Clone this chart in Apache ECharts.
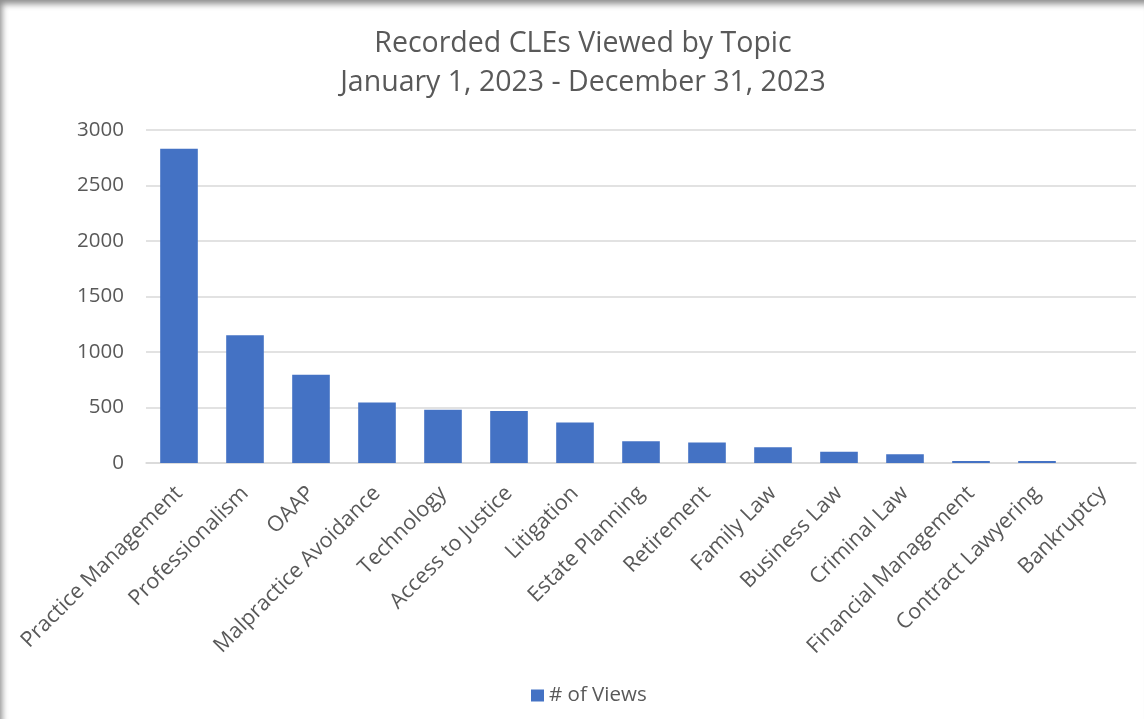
<!DOCTYPE html>
<html>
<head>
<meta charset="utf-8">
<script src="https://cdn.jsdelivr.net/npm/echarts@6/dist/echarts.min.js"></script>
<style>
  html, body { margin: 0; padding: 0; background: #fff; }
  #chart { position: absolute; left: 0; top: 0; width: 1144px; height: 719px; }
  #frame { position: absolute; left: 0; top: 0; width: 1144px; height: 719px; pointer-events: none;
           box-shadow: inset 4px 6px 6px -2px rgba(0,0,0,0.45); }
</style>
</head>
<body>
<div id="chart"></div>
<div id="frame"></div>
<script>
const titleLines = ['Recorded CLEs Viewed by Topic', 'January 1, 2023 - December 31, 2023'];
const categories = ['Practice Management', 'Professionalism', 'OAAP', 'Malpractice Avoidance', 'Technology',
  'Access to Justice', 'Litigation', 'Estate Planning', 'Retirement', 'Family Law', 'Business Law',
  'Criminal Law', 'Financial Management', 'Contract Lawyering', 'Bankruptcy'];
const views = [2830, 1150, 795, 545, 480, 468, 364, 197, 185, 142, 102, 78, 18, 18, 0];
const seriesName = '# of Views';
const yTicks = { min: 0, max: 3000, interval: 500 };

const font = '"Open Sans", Lato, sans-serif';
const chart = echarts.init(document.getElementById('chart'));
chart.setOption({
  animation: false,
  backgroundColor: '#fff',
  title: {
    text: titleLines.join('\n'),
    left: 578,
    textAlign: 'center',
    top: 19,
    textStyle: { fontFamily: font, fontSize: 28.5, fontWeight: 'normal', color: '#595959', lineHeight: 39 }
  },
  legend: {
    data: [seriesName],
    left: 526,
    bottom: 8,
    icon: 'rect',
    itemWidth: 13,
    itemHeight: 12,
    itemGap: 8,
    textStyle: { fontFamily: font, fontSize: 20.5, color: '#595959' }
  },
  grid: { left: 146, right: 8, top: 130, bottom: 256 },
  xAxis: {
    type: 'category',
    data: categories,
    axisLine: { lineStyle: { color: '#d9d9d9', width: 1.5 } },
    axisTick: { show: false },
    axisLabel: { interval: 0, rotate: 45, margin: 27, fontFamily: font, fontSize: 21.5, color: '#595959' }
  },
  yAxis: {
    type: 'value',
    min: yTicks.min, max: yTicks.max, interval: yTicks.interval,
    axisLine: { show: false },
    axisTick: { show: false },
    splitLine: { lineStyle: { color: '#d9d9d9', width: 1.5 } },
    axisLabel: { margin: 22, fontFamily: font, fontSize: 20.5, color: '#595959',
                 formatter: function (v) { return String(v); } }
  },
  series: [{
    name: seriesName,
    type: 'bar',
    data: views,
    barWidth: '57%',
    itemStyle: { color: '#4472c4' }
  }]
});
</script>
</body>
</html>
